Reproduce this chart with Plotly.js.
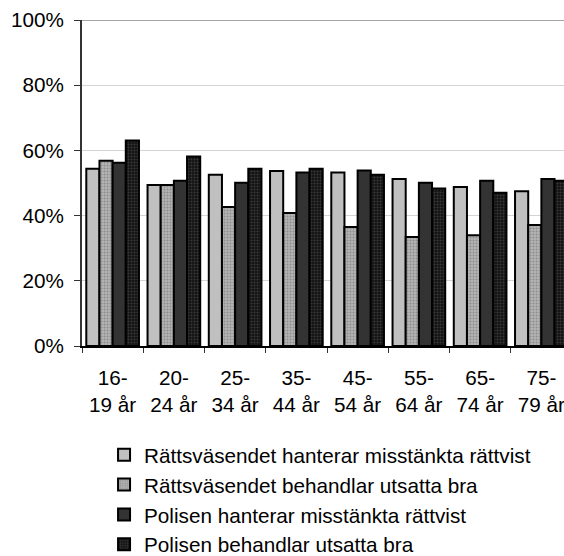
<!DOCTYPE html>
<html>
<head>
<meta charset="utf-8">
<script src="https://cdn.plot.ly/plotly-3.0.1.min.js"></script>
<style>
html, body { margin: 0; padding: 0; overflow: hidden; background: #fff; }
#chart { width: 600px; height: 556px; }
</style>
</head>
<body>
<div id="chart"></div>
<script>
const categories = ["16-<br>19 år", "20-<br>24 år", "25-<br>34 år", "35-<br>44 år", "45-<br>54 år", "55-<br>64 år", "65-<br>74 år", "75-<br>79 år"];
const seriesNames = [
  "Rättsväsendet hanterar misstänkta rättvist",
  "Rättsväsendet behandlar utsatta bra",
  "Polisen hanterar misstänkta rättvist",
  "Polisen behandlar utsatta bra"
];
const rvHanterar = [54.4, 49.4, 52.5, 53.7, 53.2, 51.2, 48.8, 47.5];
const rvBehandlar = [56.8, 49.4, 42.6, 40.8, 36.5, 33.4, 34.0, 37.1];
const polHanterar = [56.2, 50.7, 50.1, 53.2, 53.8, 50.1, 50.7, 51.2];
const polBehandlar = [63.0, 58.1, 54.4, 54.4, 52.5, 48.3, 47.0, 50.7];
const yTickVals = [0, 20, 40, 60, 80, 100];
const yTickText = ["0%", "20%", "40%", "60%", "80%", "100%"];

const seriesValues = [rvHanterar, rvBehandlar, polHanterar, polBehandlar];
const fills = ["#c0c0c0", "#a9a9a9", "#333333", "#161616"];
const patterns = [
  {shape: ""},
  {shape: ".", fgcolor: "#8c8c8c", bgcolor: "#b4b4b4", size: 3, solidity: 0.35},
  {shape: ""},
  {shape: ".", fgcolor: "#3a3a3a", bgcolor: "#121212", size: 3, solidity: 0.35}
];

const traces = seriesValues.map((vals, i) => ({
  type: "bar",
  name: seriesNames[i],
  x: categories,
  y: vals,
  marker: {
    color: fills[i],
    line: {color: "#000", width: 2},
    pattern: patterns[i]
  },
  hoverinfo: "none"
}));

const font = {family: "Liberation Sans, Arial, sans-serif", size: 20.7, color: "#000"};

const layout = {
  width: 600,
  height: 556,
  margin: {l: 82, r: 28, t: 20, b: 210, autoexpand: false},
  paper_bgcolor: "#fff",
  plot_bgcolor: "#fff",
  font: font,
  barmode: "group",
  bargap: 0.14,
  bargroupgap: 0,
  showlegend: true,
  legend: {
    x: 0.045, xanchor: "left",
    y: -0.272, yanchor: "top",
    font: font,
    traceorder: "normal",
    bgcolor: "rgba(0,0,0,0)"
  },
  xaxis: {
    type: "category",
    tickson: "boundaries",
    ticks: "outside",
    ticklen: 5,
    tickcolor: "#333",
    showline: true,
    linecolor: "#000",
    linewidth: 2,
    showgrid: false,
    tickfont: font,
    ticklabelstandoff: 12,
    automargin: false,
    fixedrange: true
  },
  yaxis: {
    range: [0, 100],
    tickvals: yTickVals,
    ticktext: yTickText,
    ticks: "outside",
    ticklen: 6,
    tickcolor: "#333",
    showline: true,
    linecolor: "#333",
    linewidth: 2,
    showgrid: true,
    gridcolor: "#d4d4d4",
    gridwidth: 1,
    zeroline: false,
    tickfont: font,
    ticklabelstandoff: 6,
    automargin: false,
    fixedrange: true
  },
  shapes: [{
    type: "line", xref: "paper", yref: "y",
    x0: 0, x1: 1, y0: 100, y1: 100,
    line: {color: "#888", width: 1.5}
  }]
};

Plotly.newPlot("chart", traces, layout, {staticPlot: true, displayModeBar: false});
</script>
</body>
</html>
